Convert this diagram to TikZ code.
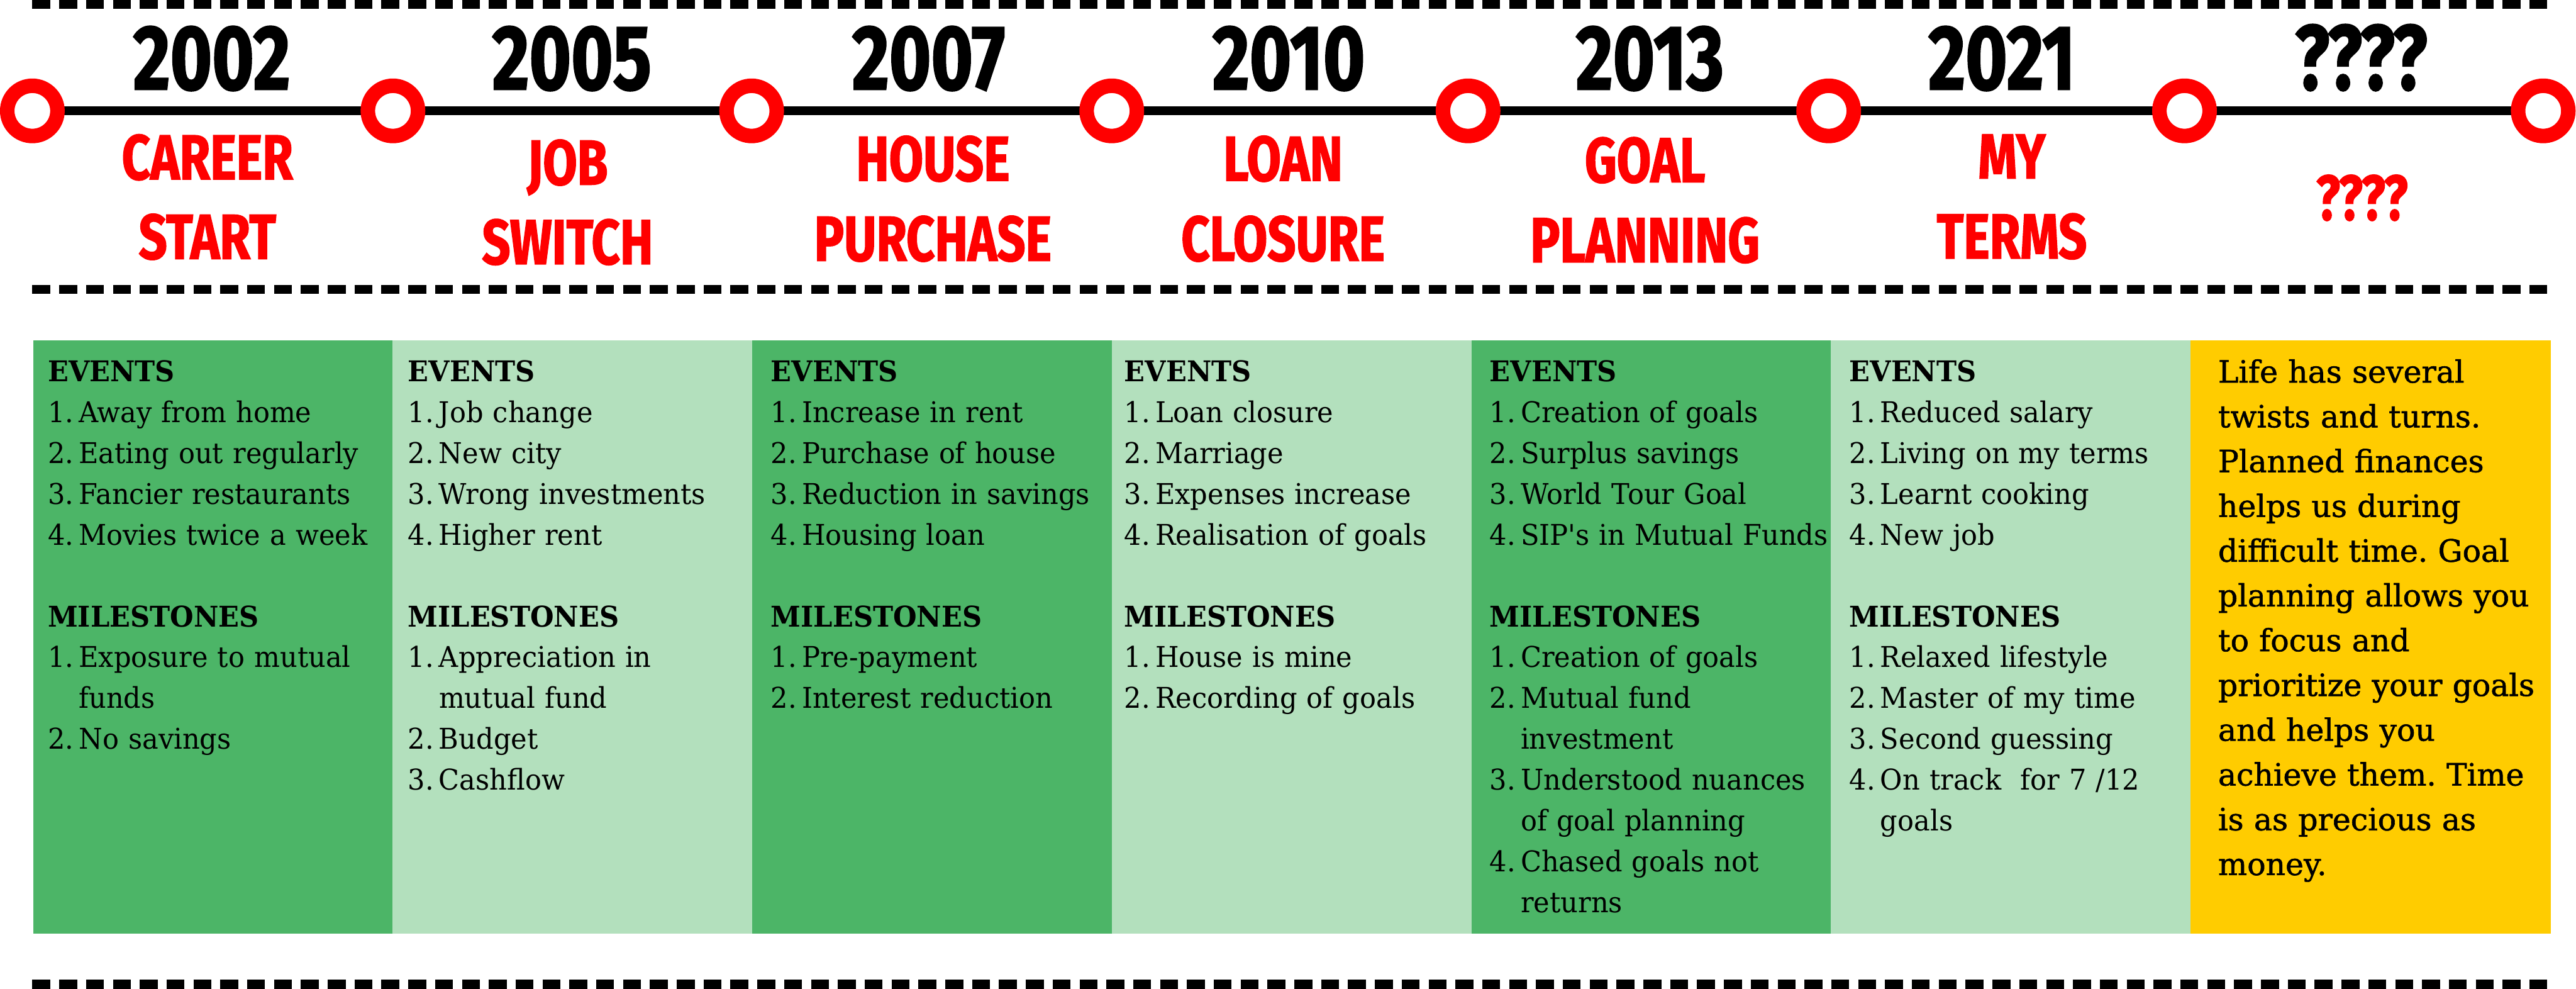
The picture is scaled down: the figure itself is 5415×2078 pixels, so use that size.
\documentclass[tikz,border=0pt]{standalone}
\usepackage{fontspec}
\newfontfamily\bodyfont{DejaVu Serif}[FakeStretch=0.95]
\newfontfamily\yellowfont{DejaVu Serif}[FakeBold=1.2]
\newfontfamily\condfont{Fira Sans}[FakeStretch=0.78,FakeBold=1.5]
\definecolor{dkgreen}{RGB}{76,181,103}
\definecolor{ltgreen}{RGB}{179,224,189}
\definecolor{gold}{RGB}{255,204,0}
\definecolor{ringred}{RGB}{255,0,0}
\newcommand\pitem[2]{\makebox[18.5pt][l]{#1}#2}
\newcommand\pcont[1]{\hspace*{18.5pt}#1}
\newcommand\phead[1]{{\bfseries #1}}
\frenchspacing
\begin{document}
\begin{tikzpicture}[x=0.01cm,y=-0.01cm,
  dashline/.style={line width=5.41pt,dash pattern=on 10.70pt off 5.35pt,black},
  ring/.style={circle,draw=ringred,line width=8.68pt,fill=white,inner sep=0pt,minimum size=1.055cm},
  axis/.style={line width=5.41pt,black},
  panel/.style={anchor=north west,inner sep=0pt,minimum width=7.57cm,minimum height=12.46cm,draw=none},
  paneltext/.style={anchor=base west,inner sep=0pt,align=left,text width=9.5cm,
    font=\bodyfont\frenchspacing\fontsize{17.07}{24.4}\selectfont},
  yeartext/.style={anchor=base,inner sep=0pt,font=\condfont\bfseries\fontsize{54.9}{60}\selectfont},
  labeltext/.style={anchor=base,inner sep=0pt,text=ringred,font=\condfont\bfseries\fontsize{38}{42}\selectfont},
  yellowtext/.style={anchor=base west,inner sep=0pt,align=left,text width=8cm,
    font=\yellowfont\frenchspacing\fontsize{18.35}{26.75}\selectfont}]
\useasboundingbox (0,0) rectangle (5415,2078);
\fill[white] (0,0) rectangle (5415,2078);

% dashed separators
\coordinate (d1s) at (68,9.5);   \coordinate (d1e) at (5359,9.5);
\coordinate (d2s) at (68,608);   \coordinate (d2e) at (5359,608);
\coordinate (d3s) at (68,2068.5);\coordinate (d3e) at (5359,2068.5);
\draw[dashline] (d1s) -- (d1e);
\draw[dashline] (d2s) -- (d2e);
\draw[dashline] (d3s) -- (d3e);

% timeline
\coordinate (a0) at (68,233);
\coordinate (a7) at (5346,233);
\draw[axis] (a0) -- (a7);
\node[ring] (c0) at (68,233) {};
\node[ring] (c1) at (826,233) {};
\node[ring] (c2) at (1580,233) {};
\node[ring] (c3) at (2337,233) {};
\node[ring] (c4) at (3086,233) {};
\node[ring] (c5) at (3844,233) {};
\node[ring] (c6) at (4592,233) {};
\node[ring] (c7) at (5346,233) {};

% years
\node[yeartext] (y1) at (445,188) {2002};
\node[yeartext] (y2) at (1202,188) {2005};
\node[yeartext] (y3) at (1952,188) {2007};
\node[yeartext] (y4) at (2709,188) {2010};
\node[yeartext] (y5) at (3468,188) {2013};
\node[yeartext] (y6) at (4208,188) {2021};
\node[yeartext] (y7) at (4963,188) {????};

% labels
\node[labeltext] (l1a) at (436,377) {CAREER};
\node[labeltext] (l1b) at (436,544) {START};
\node[labeltext] (l2a) at (1193,388) {JOB};
\node[labeltext] (l2b) at (1193,555) {SWITCH};
\node[labeltext] (l3a) at (1961,380) {HOUSE};
\node[labeltext] (l3b) at (1961,548) {PURCHASE};
\node[labeltext] (l4a) at (2697,380) {LOAN};
\node[labeltext] (l4b) at (2697,548) {CLOSURE};
\node[labeltext] (l5a) at (3458,383) {GOAL};
\node[labeltext] (l5b) at (3458,551) {PLANNING};
\node[labeltext] (l6a) at (4229,375) {MY};
\node[labeltext] (l6b) at (4229,543) {TERMS};
\node[labeltext] (l7a) at (4965,462) {????};

% panels
\node[panel,fill=dkgreen] (p1) at (69,715) {};
\node[panel,fill=ltgreen] (p2) at (824,715) {};
\node[panel,fill=dkgreen] (p3) at (1580,715) {};
\node[panel,fill=ltgreen] (p4) at (2336,715) {};
\node[panel,fill=dkgreen] (p5) at (3093,715) {};
\node[panel,fill=ltgreen] (p6) at (3848,715) {};
\node[panel,fill=gold] (p7) at (4604,715) {};

\node[paneltext] (t1) at (100,802) {\phead{EVENTS}\\
\pitem{1.}{Away from home}\\
\pitem{2.}{Eating out regularly}\\
\pitem{3.}{Fancier restaurants}\\
\pitem{4.}{Movies twice a week}\\[24.4pt]
\phead{MILESTONES}\\
\pitem{1.}{Exposure to mutual}\\
\pcont{funds}\\
\pitem{2.}{No savings}};

\node[paneltext] (t2) at (857,802) {\phead{EVENTS}\\
\pitem{1.}{Job change}\\
\pitem{2.}{New city}\\
\pitem{3.}{Wrong investments}\\
\pitem{4.}{Higher rent}\\[24.4pt]
\phead{MILESTONES}\\
\pitem{1.}{Appreciation in}\\
\pcont{mutual fund}\\
\pitem{2.}{Budget}\\
\pitem{3.}{Cashflow}};

\node[paneltext] (t3) at (1620,802) {\phead{EVENTS}\\
\pitem{1.}{Increase in rent}\\
\pitem{2.}{Purchase of house}\\
\pitem{3.}{Reduction in savings}\\
\pitem{4.}{Housing loan}\\[24.4pt]
\phead{MILESTONES}\\
\pitem{1.}{Pre-payment}\\
\pitem{2.}{Interest reduction}};

\node[paneltext] (t4) at (2363,802) {\phead{EVENTS}\\
\pitem{1.}{Loan closure}\\
\pitem{2.}{Marriage}\\
\pitem{3.}{Expenses increase}\\
\pitem{4.}{Realisation of goals}\\[24.4pt]
\phead{MILESTONES}\\
\pitem{1.}{House is mine}\\
\pitem{2.}{Recording of goals}};

\node[paneltext] (t5) at (3131,802) {\phead{EVENTS}\\
\pitem{1.}{Creation of goals}\\
\pitem{2.}{Surplus savings}\\
\pitem{3.}{World Tour Goal}\\
\pitem{4.}{SIP's in Mutual Funds}\\[24.4pt]
\phead{MILESTONES}\\
\pitem{1.}{Creation of goals}\\
\pitem{2.}{Mutual fund}\\
\pcont{investment}\\
\pitem{3.}{Understood nuances}\\
\pcont{of goal planning}\\
\pitem{4.}{Chased goals not}\\
\pcont{returns}};

\node[paneltext] (t6) at (3887,802) {\phead{EVENTS}\\
\pitem{1.}{Reduced salary}\\
\pitem{2.}{Living on my terms}\\
\pitem{3.}{Learnt cooking}\\
\pitem{4.}{New job}\\[24.4pt]
\phead{MILESTONES}\\
\pitem{1.}{Relaxed lifestyle}\\
\pitem{2.}{Master of my time}\\
\pitem{3.}{Second guessing}\\
\pitem{4.}{On track\ \ for 7 /12}\\
\pcont{goals}};

\node[yellowtext] (t7) at (4662,804) {Life has several\\
twists and turns.\\
Planned finances\\
helps us during\\
difficult time. Goal\\
planning allows you\\
to focus and\\
prioritize your goals\\
and helps you\\
achieve them. Time\\
is as precious as\\
money.};
\end{tikzpicture}
\end{document}
